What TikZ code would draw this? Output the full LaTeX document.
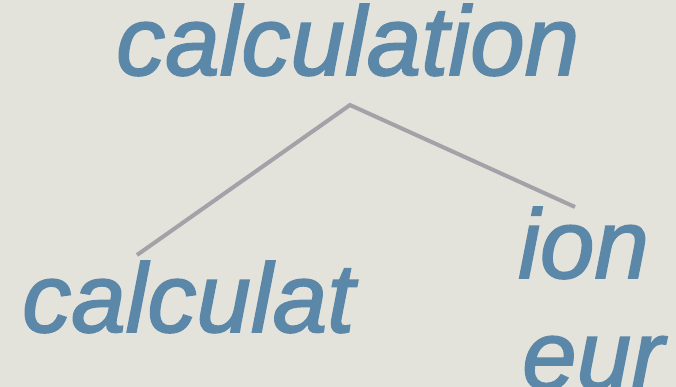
\documentclass[tikz,border=0pt]{standalone}
\usepackage{fontspec}
\newfontface\wordface{Liberation Sans Italic}[RawFeature={embolden=1.8}]
\usepackage{xcolor}
\definecolor{bgpaper}{HTML}{E3E3DC}
\definecolor{wordblue}{HTML}{5B87A8}
\definecolor{linkgrey}{HTML}{A2A2A8}
\usetikzlibrary{positioning}

\begin{document}
\begin{tikzpicture}[
x=1pt, y=-1pt,
word/.style={text=wordblue, font=\fontsize{98}{110}\wordface, inner sep=0pt, anchor=base west},
link/.style={linkgrey, line width=4pt}
]
\fill[bgpaper] (0,0) rectangle (676,387);
\useasboundingbox (0,0) rectangle (676,387);
\node[word] (whole) at (116,75) {calculation};
\node[word] (stem) at (22,332) {calculat};
\node[word] (suffix) at (518,278) {ion};
\node[word] (suffixalt) at (522,389) {eur};
\coordinate (split) at (350,105);
\coordinate (stemend) at (137,255);
\coordinate (suffixend) at (575,207);
\draw[link] (stemend) -- (split) -- (suffixend);
\end{tikzpicture}
\end{document}
